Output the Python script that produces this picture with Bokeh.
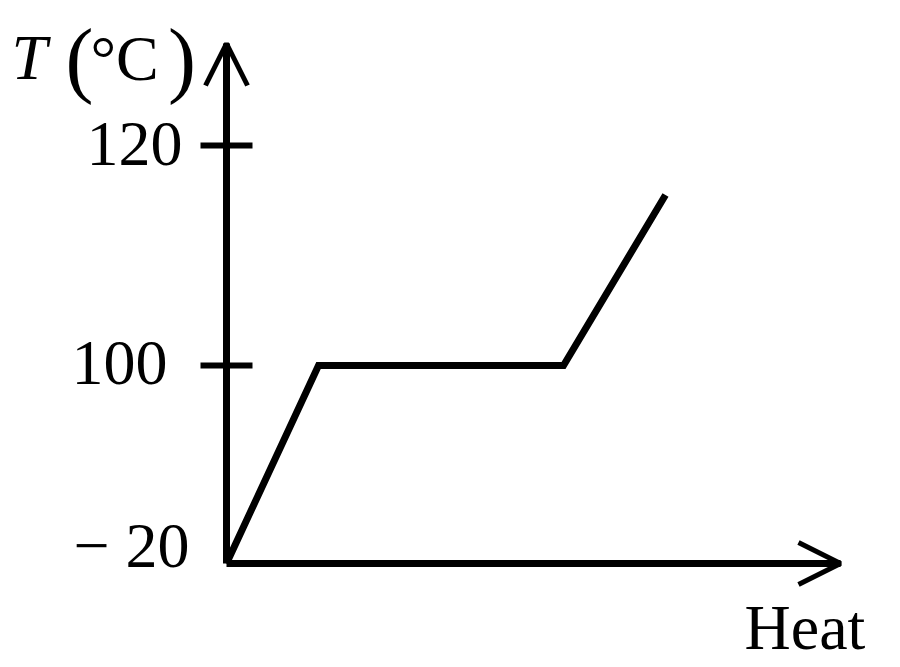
import numpy as np
from bokeh.plotting import figure
from bokeh.models import FixedTicker, Label, Arrow, OpenHead, Range1d, LinearAxis
from bokeh.embed import file_html
from bokeh.resources import INLINE

# ---- data (schematic heating curve) ----
heat = [0.0, 0.92, 3.37, 4.39]          # heat supplied (arbitrary units)
temp = [-20, 100, 100, 115.5]           # temperature, degC
tick_temps = [-20, 100, 120]            # labelled temperatures on the axis
tick_labels = ["\u2212 20", "100", "120"]

# the temperature axis is schematic (broken): piecewise-linear axis units
axis_units = [0.0, 1.0, 1.0 + 220.0 / 198.0]


def to_axis(t):
    return np.interp(t, tick_temps, axis_units)


FONT = "Liberation Serif"
W, H = 900, 667
OX, OY = 226, 563          # origin on the canvas
SX, SY = 100.0, 198.0      # pixels per unit

p = figure(width=W, height=H, output_backend="svg", toolbar_location=None,
           title=None,
           x_range=Range1d(-OX / SX, (W - OX) / SX),
           y_range=Range1d(-(H - OY) / SY, OY / SY),
           min_border=0, x_axis_location=None, y_axis_location=None)
p.outline_line_color = None
p.xgrid.visible = False
p.ygrid.visible = False
p.background_fill_color = "white"
p.border_fill_color = "white"

x_tip = (840 - OX) / SX
y_tip = (OY - 43) / SY

ya = LinearAxis(fixed_location=0, bounds=(0, y_tip),
                ticker=FixedTicker(ticks=list(to_axis([100, 120])), minor_ticks=[]))
ya.major_label_overrides = {float(v): "" for v in to_axis([100, 120])}
ya.major_tick_in = 26
ya.major_tick_out = 26
ya.major_tick_line_width = 6
ya.major_tick_line_color = "black"
ya.minor_tick_line_color = None
ya.axis_line_width = 7
ya.axis_line_color = "black"
p.add_layout(ya, "left")

xa = LinearAxis(fixed_location=0, bounds=(0, x_tip),
                ticker=FixedTicker(ticks=[], minor_ticks=[]))
xa.major_tick_line_color = None
xa.minor_tick_line_color = None
xa.axis_line_width = 7
xa.axis_line_color = "black"
p.add_layout(xa, "below")

# arrow heads at axis ends
p.add_layout(Arrow(end=OpenHead(size=42, line_width=5, line_color="black"),
                   x_start=0, y_start=y_tip - 0.3, x_end=0, y_end=y_tip,
                   line_width=7, line_color="black"))
p.add_layout(Arrow(end=OpenHead(size=42, line_width=5, line_color="black"),
                   x_start=x_tip - 0.5, y_start=0, x_end=x_tip, y_end=0,
                   line_width=7, line_color="black"))

# heating curve
p.line(heat, to_axis(temp), line_width=7, line_color="black", line_join="miter")

# tick labels
lab_x = {"\u2212 20": -0.37, "100": -0.59, "120": -0.44}
lab_off = {"\u2212 20": 18, "100": 3, "120": 2}
for t, s in zip(tick_temps, tick_labels):
    p.add_layout(Label(x=lab_x[s], y=float(to_axis(t)), y_offset=lab_off[s], text=s,
                       text_font=FONT, text_font_size="64px", text_align="right",
                       text_baseline="alphabetic", text_color="black"))

# axis titles
def lab(x, y, text, size, yoff, style="normal"):
    p.add_layout(Label(x=x, y=y, y_offset=yoff, text=text, text_font=FONT,
                       text_font_size=size, text_font_style=style, text_align="left",
                       text_baseline="alphabetic", text_color="black"))


lab(-2.15, 2.439, "T", "64px", 23, "italic")
lab(-1.61, 2.40, "(", "84px", 30)
lab(-1.36, 2.434, "\u00b0C", "64px", 23)
lab(-0.585, 2.40, ")", "84px", 30)
lab(5.18, -0.439, "Heat", "64px", 23)

open("out.html", "w").write(file_html(p, INLINE))
